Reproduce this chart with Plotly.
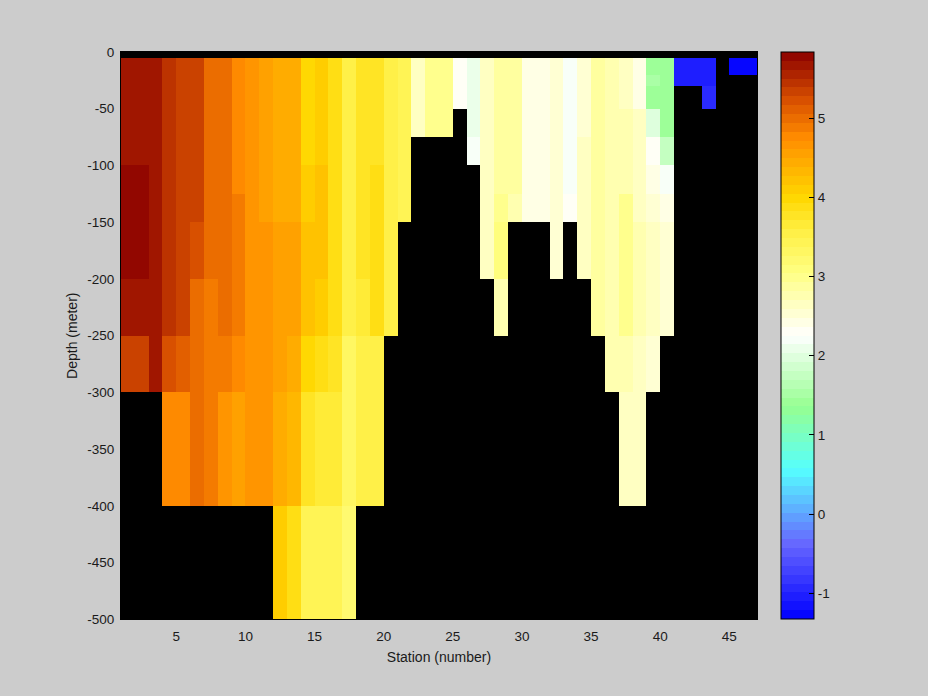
import plotly.graph_objects as go

# Depth edges (m) of the cells; stations 1..47 are the column edges
depth_edges = [0, -5, -20, -30, -50, -75, -100, -125, -150, -200, -250, -300, -400, -500]
station_edges = list(range(1, 48))

# Temperature per station, rows from -5/-20 m downward (missing below the sea floor)
st01 = [5.68,5.68,5.68,5.68,5.68,5.8,5.8,5.8,5.68,5.33]
st02 = [5.68,5.68,5.68,5.68,5.68,5.8,5.8,5.8,5.68,5.33]
st03 = [5.68,5.68,5.68,5.68,5.68,5.68,5.68,5.68,5.68,5.68]
st04 = [5.45,5.45,5.45,5.45,5.45,5.45,5.45,5.45,5.45,5.22,4.77]
st05 = [5.33,5.33,5.33,5.33,5.33,5.33,5.33,5.33,5.33,5.1,4.77]
st06 = [5.33,5.33,5.33,5.33,5.33,5.33,5.33,5.22,5.0,5.0,5.0]
st07 = [5.0,5.0,5.0,5.0,5.0,5.0,5.0,5.0,4.88,4.88,4.88]
st08 = [5.0,5.0,5.0,5.0,5.0,5.0,5.0,5.0,5.0,4.88,4.6]
st09 = [4.77,4.77,4.77,4.77,4.77,4.77,4.88,4.88,4.88,4.77,4.55]
st10 = [4.66,4.66,4.66,4.66,4.66,4.66,4.66,4.66,4.66,4.66,4.66]
st11 = [4.55,4.55,4.55,4.55,4.55,4.55,4.55,4.6,4.66,4.66,4.66]
st12 = [4.44,4.44,4.44,4.44,4.44,4.44,4.44,4.55,4.55,4.55,4.44,4.05]
st13 = [4.44,4.44,4.44,4.44,4.44,4.44,4.44,4.55,4.55,4.38,4.3,3.9]
st14 = [3.96,3.96,3.96,3.96,3.96,4.05,4.05,4.18,4.18,3.96,3.76,3.38]
st15 = [4.12,4.12,4.12,4.12,4.12,4.22,4.22,4.22,4.08,3.85,3.6,3.38]
st16 = [3.85,3.85,3.85,3.85,3.85,3.85,3.85,3.85,3.9,3.76,3.6,3.38]
st17 = [3.5,3.5,3.5,3.5,3.5,3.5,3.5,3.5,3.5,3.3,3.3,3.2]
st18 = [3.76,3.76,3.76,3.76,3.76,3.76,3.76,3.76,3.7,3.58,3.5]
st19 = [3.76,3.76,3.76,3.76,3.76,3.9,3.9,3.9,3.85,3.58,3.58]
st20 = [3.58,3.58,3.58,3.58,3.58,3.58,3.58,3.58,3.58]
st21 = [3.45,3.45,3.45,3.45,3.45,3.45,3.45]
st22 = [2.6,2.6,2.6,2.6]
st23 = [2.99,2.99,2.99,2.99]
st24 = [2.99,2.99,2.99,2.99]
st25 = [2.35,2.35,2.35]
st26 = [2.08,2.08,2.08,2.08,2.16]
st27 = [2.67,2.67,2.67,2.67,2.67,2.67,2.67,2.67]
st28 = [2.86,2.86,2.86,2.86,2.86,2.86,2.99,3.05,2.75]
st29 = [2.86,2.86,2.86,2.86,2.86,2.86,2.79]
st30 = [2.44,2.44,2.44,2.44,2.44,2.44,2.44]
st31 = [2.44,2.44,2.44,2.44,2.44,2.44,2.44]
st32 = [2.51,2.51,2.51,2.51,2.51,2.51,2.51,2.51]
st33 = [2.2,2.2,2.2,2.2,2.2,2.2,2.35]
st34 = [2.51,2.51,2.51,2.51,2.6,2.6,2.6,2.6]
st35 = [2.86,2.86,2.86,2.86,2.86,2.86,2.86,2.86,2.86]
st36 = [2.79,2.79,2.79,2.79,2.79,2.79,2.79,2.79,2.79,2.79]
st37 = [2.67,2.67,2.67,2.79,2.79,2.79,2.99,2.99,2.99,2.79,2.6]
st38 = [2.44,2.44,2.44,2.6,2.6,2.6,2.6,2.7,2.73,2.67,2.67]
st39 = [1.42,1.5,1.42,2.0,2.35,2.41,2.48,2.64,2.67,2.51]
st40 = [1.42,1.42,1.42,1.42,1.74,2.16,2.38,2.51,2.57]
st41 = [-1.1,-1.1]
st42 = [-1.1,-1.1]
st43 = [-1.0,-1.0,-0.9]
st44 = []
st45 = [-1.28]
st46 = [-1.28]

station_columns = [st01,st02,st03,st04,st05,st06,st07,st08,st09,st10,st11,st12,st13,st14,st15,st16,
                   st17,st18,st19,st20,st21,st22,st23,st24,st25,st26,st27,st28,st29,st30,st31,st32,
                   st33,st34,st35,st36,st37,st38,st39,st40,st41,st42,st43,st44,st45,st46]

x_ticks = [5, 10, 15, 20, 25, 30, 35, 40, 45]
x_labels = ["5", "10", "15", "20", "25", "30", "35", "40", "45"]
y_ticks = [0, -50, -100, -150, -200, -250, -300, -350, -400, -450, -500]
y_labels = ["0", "-50", "-100", "-150", "-200", "-250", "-300", "-350", "-400", "-450", "-500"]
cbar_ticks = [-1, 0, 1, 2, 3, 4, 5]
cbar_labels = ["-1", "0", "1", "2", "3", "4", "5"]
cmin, cmax = -1.33, 5.83

# Colormap anchors (value, rgb), cut into 64 flat steps like the original
anchors = [(-1.33,(0,0,255)),(-0.39,(102,102,255)),(0.55,(85,255,255)),(1.35,(150,255,145)),
           (2.25,(255,255,255)),(3.05,(255,255,130)),(3.55,(255,240,70)),(4.0,(255,215,0)),
           (4.75,(255,140,0)),(5.2,(218,82,0)),(5.83,(139,0,0))]

def colour_at(v):
    for (a, ca), (b, cb) in zip(anchors, anchors[1:]):
        if v <= b:
            t = (v - a) / (b - a)
            return tuple(round(p + (q - p) * t) for p, q in zip(ca, cb))
    return anchors[-1][1]

colorscale = []
for i in range(64):
    c = colour_at(cmin + (cmax - cmin) * (i + 0.5) / 64)
    s = "rgb(%d,%d,%d)" % c
    colorscale += [[i / 64, s], [(i + 1) / 64, s]]

n_rows = len(depth_edges) - 1
z = [[None] * len(station_columns)]  # first row, 0 to -5 m, has no data
for r in range(n_rows - 1):
    z.append([col[r] if r < len(col) else None for col in station_columns])

W, H = 928, 696
L, R, T, B = 121, 757, 52, 619.4
GREY = "#cccccc"
tick_font = dict(family="Liberation Sans, Arial, sans-serif", size=13.5, color="#1a1a1a")
title_font = dict(family="Liberation Sans, Arial, sans-serif", size=14, color="#1a1a1a")

fig = go.Figure(go.Heatmap(
    x=station_edges, y=depth_edges, z=z, zmin=cmin, zmax=cmax, zsmooth=False,
    colorscale=colorscale, hoverongaps=False,
    colorbar=dict(x=781 / W, xanchor="left", xpad=0, ypad=0, thickness=33, thicknessmode="pixels",
                  len=(B - T) / H, lenmode="fraction", y=1 - B / H, yanchor="bottom",
                  outlinecolor="black", outlinewidth=1, ticks="inside", ticklen=5, tickcolor="black",
                  tickwidth=1, tickmode="array", tickvals=cbar_ticks, ticktext=cbar_labels, tickfont=tick_font),
))

# Left-hand ticks of the colour bar
shapes = [dict(type="line", xref="paper", yref="paper", x0=781 / W, x1=786 / W,
               y0=(1 - B / H) + (v - cmin) / (cmax - cmin) * (B - T) / H,
               y1=(1 - B / H) + (v - cmin) / (cmax - cmin) * (B - T) / H,
               line=dict(color="black", width=1)) for v in cbar_ticks]

# The original's ticks sit under the cells and on black, so none show
axis_common = dict(showgrid=False, zeroline=False, ticks="",
                   showline=True, linecolor="black", linewidth=1, mirror=True, tickfont=tick_font,
                   tickmode="array")
fig.update_layout(
    width=W, height=H, autosize=False, margin=dict(l=0, r=0, t=0, b=0, autoexpand=False),
    paper_bgcolor=GREY, plot_bgcolor="black", font=tick_font, shapes=shapes,
    xaxis=dict(axis_common, domain=[L / W, R / W], range=[1, 47], tickvals=x_ticks, ticktext=x_labels,
               ticklabelstandoff=4, title=dict(text="Station (number)", font=title_font, standoff=9)),
    yaxis=dict(axis_common, domain=[1 - B / H, 1 - T / H], range=[-500, 0], tickvals=y_ticks, ticktext=y_labels,
               ticklabelstandoff=3, title=dict(text="Depth (meter)", font=title_font, standoff=6)),
)
fig.write_html("out.html", config=dict(displayModeBar=False),
               post_script="document.body.style.margin='0';document.body.style.background='#cccccc';")
